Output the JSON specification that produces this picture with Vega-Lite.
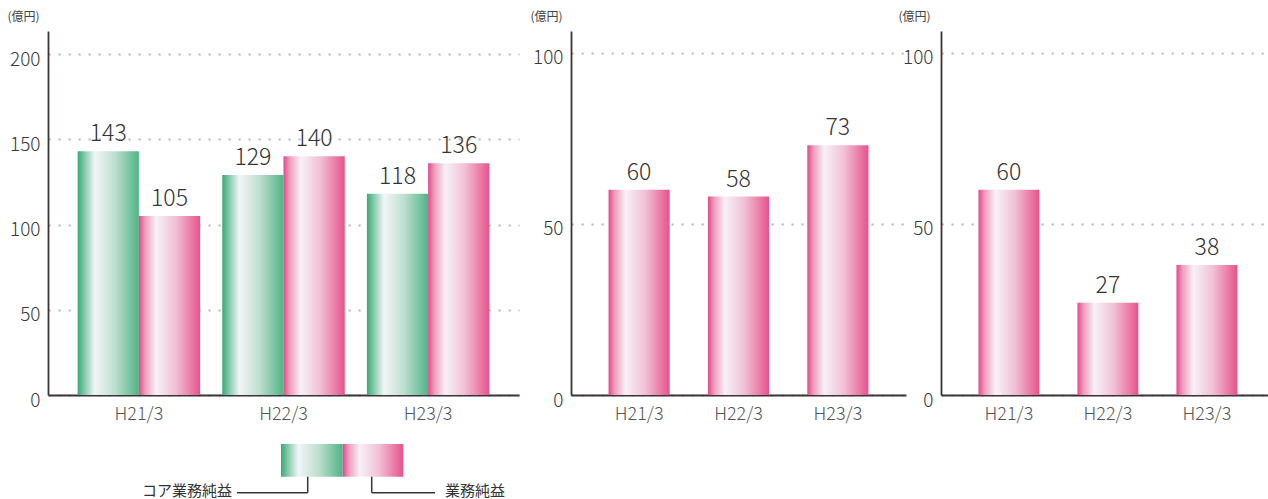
{
  "$schema": "https://vega.github.io/schema/vega-lite/v6.json",
  "padding": {"left": 7, "top": 10, "right": 0, "bottom": 0},
  "background": "white",
  "config": {
    "view": {"stroke": null},
    "font": "Noto Sans CJK JP",
    "axis": {
      "domainColor": "#3c3434",
      "domainWidth": 1.8,
      "ticks": false,
      "labelColor": "#3a3a3a",
      "labelFontWeight": 300,
      "titleColor": "#444444",
      "titleFontWeight": "normal"
    },
    "axisX": {"zindex": 1}
  },
  "bounds": "flush",
  "columns": 3,
  "spacing": {"column": 35, "row": 49},
  "concat": [
    {
      "width": 488,
      "height": 364,
      "data": {"values": [
        {"period": "H21/3", "series": "コア業務純益", "value": 143},
        {"period": "H21/3", "series": "業務純益", "value": 105},
        {"period": "H22/3", "series": "コア業務純益", "value": 129},
        {"period": "H22/3", "series": "業務純益", "value": 140},
        {"period": "H23/3", "series": "コア業務純益", "value": 118},
        {"period": "H23/3", "series": "業務純益", "value": 136}
      ]},
      "encoding": {
        "x": {"field": "period", "type": "nominal", "sort": null,
          "scale": {"range": [0, 471], "paddingInner": 0.153, "paddingOuter": 0.205},
          "axis": {"title": null, "labelAngle": 0, "labelPadding": 10, "labelFontSize": 18, "labelColor": "#555555"}},
        "xOffset": {"field": "series", "type": "nominal", "sort": null,
          "scale": {"domain": ["コア業務純益", "業務純益"], "paddingInner": 0, "paddingOuter": 0}},
        "y": {"field": "value", "type": "quantitative",
          "scale": {"domain": [0, 213.5], "nice": false},
          "axis": {"title": "(億円)", "titleAngle": 0, "titleAlign": "left", "titleBaseline": "top", "titleX": -41, "titleY": -20, "titleFontSize": 12,
            "values": [0, 50, 100, 150, 200], "labelPadding": 8, "labelFontSize": 19, "labelOffset": 5,
            "grid": true, "gridDash": [2.2, 7.8], "gridColor": "#bbbbbb", "gridWidth": 2.2}}
      },
      "layer": [
        {"transform": [{"filter": "datum.series === 'コア業務純益'"}],
          "mark": {"type": "bar", "color": {"gradient": "linear", "x1": 0, "y1": 0, "x2": 1, "y2": 0, "stops": [
            {"offset": 0, "color": "#3aa978"}, {"offset": 0.1, "color": "#7cc6a4"}, {"offset": 0.28, "color": "#f2f5f8"}, {"offset": 0.6, "color": "#bfe0d0"}, {"offset": 1, "color": "#4fb586"}]}}},
        {"transform": [{"filter": "datum.series === '業務純益'"}],
          "mark": {"type": "bar", "color": {"gradient": "linear", "x1": 0, "y1": 0, "x2": 1, "y2": 0, "stops": [
            {"offset": 0, "color": "#e4478a"}, {"offset": 0.1, "color": "#ee9cbd"}, {"offset": 0.28, "color": "#f7f1f7"}, {"offset": 0.6, "color": "#f1c0d4"}, {"offset": 1, "color": "#e7528c"}]}}},
        {"mark": {"type": "text", "baseline": "alphabetic", "dy": -10, "fontSize": 23, "fontWeight": 300, "color": "#333333"},
          "encoding": {"text": {"field": "value", "type": "quantitative"}}}
      ]
    },
    {
      "width": 335,
      "height": 364,
      "data": {"values": [
        {"period": "H21/3", "value": 60},
        {"period": "H22/3", "value": 58},
        {"period": "H23/3", "value": 73}
      ]},
      "encoding": {
        "x": {"field": "period", "type": "nominal", "sort": null,
          "scale": {"paddingInner": 0.385, "paddingOuter": 0.378},
          "axis": {"title": null, "labelAngle": 0, "labelPadding": 10, "labelFontSize": 18, "labelColor": "#555555"}},
        "y": {"field": "value", "type": "quantitative",
          "scale": {"domain": [0, 106.4], "nice": false},
          "axis": {"title": "(億円)", "titleAngle": 0, "titleAlign": "left", "titleBaseline": "top", "titleX": -41, "titleY": -20, "titleFontSize": 12,
            "values": [0, 50, 100], "labelPadding": 8, "labelFontSize": 19, "labelOffset": 5,
            "grid": true, "gridDash": [2.2, 7.8], "gridColor": "#bbbbbb", "gridWidth": 2.2}}
      },
      "layer": [
        {"mark": {"type": "bar", "color": {"gradient": "linear", "x1": 0, "y1": 0, "x2": 1, "y2": 0, "stops": [
            {"offset": 0, "color": "#e4478a"}, {"offset": 0.1, "color": "#ee9cbd"}, {"offset": 0.28, "color": "#f7f1f7"}, {"offset": 0.6, "color": "#f1c0d4"}, {"offset": 1, "color": "#e7528c"}]}}},
        {"mark": {"type": "text", "baseline": "alphabetic", "dy": -10, "fontSize": 23, "fontWeight": 300, "color": "#333333"},
          "encoding": {"text": {"field": "value", "type": "quantitative"}}}
      ]
    },
    {
      "width": 327,
      "height": 364,
      "data": {"values": [
        {"period": "H21/3", "value": 60},
        {"period": "H22/3", "value": 27},
        {"period": "H23/3", "value": 38}
      ]},
      "encoding": {
        "x": {"field": "period", "type": "nominal", "sort": null,
          "scale": {"paddingInner": 0.385, "paddingOuter": 0.344, "align": 0.55},
          "axis": {"title": null, "labelAngle": 0, "labelPadding": 10, "labelFontSize": 18, "labelColor": "#555555"}},
        "y": {"field": "value", "type": "quantitative",
          "scale": {"domain": [0, 106.4], "nice": false},
          "axis": {"title": "(億円)", "titleAngle": 0, "titleAlign": "left", "titleBaseline": "top", "titleX": -43, "titleY": -20, "titleFontSize": 12,
            "values": [0, 50, 100], "labelPadding": 8, "labelFontSize": 19, "labelOffset": 5,
            "grid": true, "gridDash": [2.2, 7.8], "gridColor": "#bbbbbb", "gridWidth": 2.2}}
      },
      "layer": [
        {"mark": {"type": "bar", "color": {"gradient": "linear", "x1": 0, "y1": 0, "x2": 1, "y2": 0, "stops": [
            {"offset": 0, "color": "#e4478a"}, {"offset": 0.1, "color": "#ee9cbd"}, {"offset": 0.28, "color": "#f7f1f7"}, {"offset": 0.6, "color": "#f1c0d4"}, {"offset": 1, "color": "#e7528c"}]}}},
        {"mark": {"type": "text", "baseline": "alphabetic", "dy": -10, "fontSize": 23, "fontWeight": 300, "color": "#333333"},
          "encoding": {"text": {"field": "value", "type": "quantitative"}}}
      ]
    },
    {
      "width": 471,
      "height": 56,
      "encoding": {
        "x": {"field": "x", "type": "quantitative", "scale": {"domain": [0, 100]}, "axis": null},
        "y": {"field": "y", "type": "quantitative", "scale": {"domain": [0, 100]}, "axis": null}
      },
      "layer": [
        {"data": {"values": [{"x": 49.47, "x2": 62.57, "y": 100, "y2": 41.6}]},
          "mark": {"type": "rect", "color": {"gradient": "linear", "x1": 0, "y1": 0, "x2": 1, "y2": 0, "stops": [
            {"offset": 0, "color": "#3aa978"}, {"offset": 0.1, "color": "#7cc6a4"}, {"offset": 0.28, "color": "#f2f5f8"}, {"offset": 0.6, "color": "#bfe0d0"}, {"offset": 1, "color": "#4fb586"}]}},
          "encoding": {"x2": {"field": "x2"}, "y2": {"field": "y2"}}},
        {"data": {"values": [{"x": 62.57, "x2": 75.44, "y": 100, "y2": 41.6}]},
          "mark": {"type": "rect", "color": {"gradient": "linear", "x1": 0, "y1": 0, "x2": 1, "y2": 0, "stops": [
            {"offset": 0, "color": "#e4478a"}, {"offset": 0.1, "color": "#ee9cbd"}, {"offset": 0.28, "color": "#f7f1f7"}, {"offset": 0.6, "color": "#f1c0d4"}, {"offset": 1, "color": "#e7528c"}]}},
          "encoding": {"x2": {"field": "x2"}, "y2": {"field": "y2"}}},
        {"data": {"values": [
            {"x": 55.14, "x2": 55.14, "y": 41.6, "y2": 13},
            {"x": 40.13, "x2": 55.14, "y": 13, "y2": 13},
            {"x": 68.73, "x2": 68.73, "y": 41.6, "y2": 13},
            {"x": 68.73, "x2": 82.17, "y": 13, "y2": 13}
          ]},
          "mark": {"type": "rule", "color": "#3c3434", "strokeWidth": 1.5},
          "encoding": {"x2": {"field": "x2"}, "y2": {"field": "y2"}}},
        {"data": {"values": [{"x": 39.07, "y": 16, "label": "コア業務純益"}]},
          "mark": {"type": "text", "align": "right", "baseline": "middle", "fontSize": 15, "color": "#333333"},
          "encoding": {"text": {"field": "label"}}},
        {"data": {"values": [{"x": 84.29, "y": 16, "label": "業務純益"}]},
          "mark": {"type": "text", "align": "left", "baseline": "middle", "fontSize": 15, "color": "#333333"},
          "encoding": {"text": {"field": "label"}}}
      ]
    }
  ]
}
